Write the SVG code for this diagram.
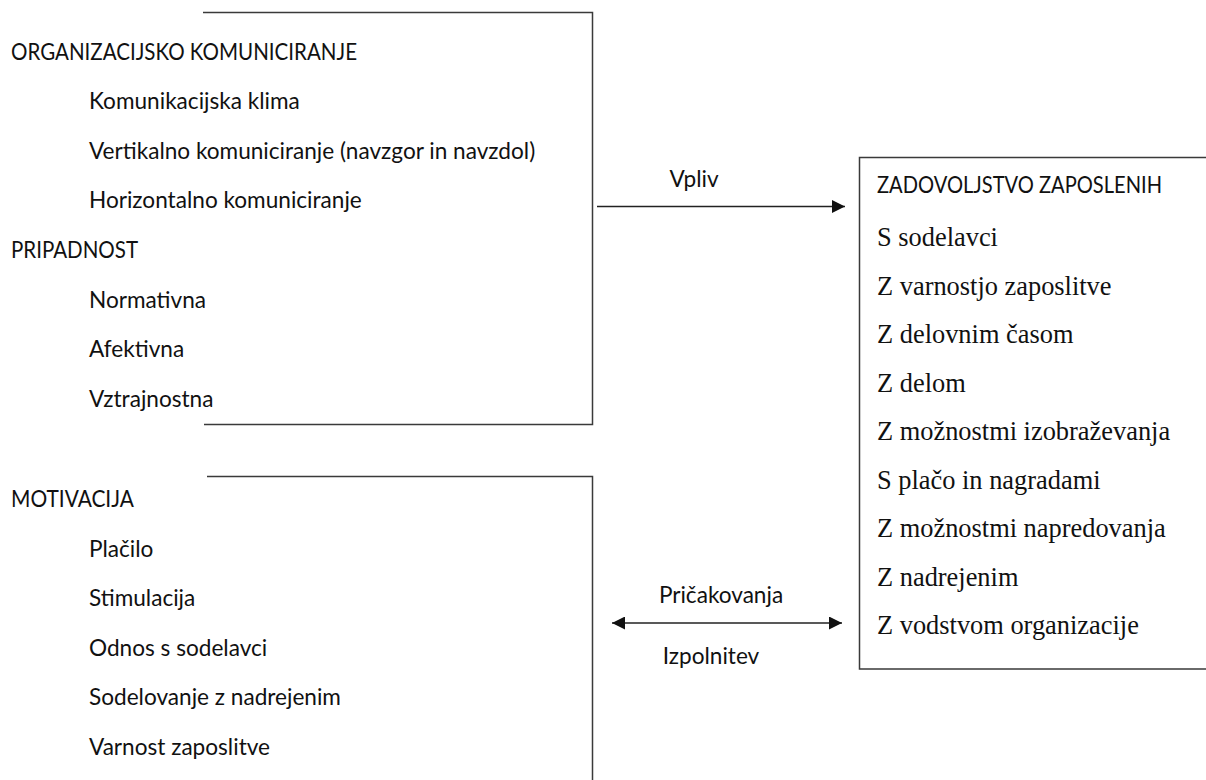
<svg xmlns="http://www.w3.org/2000/svg" width="1206" height="780" viewBox="0 0 1206 780">
  <defs>
    <style>
      .frame { fill: none; stroke: #3a3a3a; stroke-width: 1.5; }
      .conn { fill: none; stroke: #222; stroke-width: 1.5; }
      .sans { font-family: Lato, "Open Sans", "Liberation Sans", sans-serif; font-size: 22.6px; fill: #111; }
      .serif { font-family: "Liberation Serif", "Times New Roman", serif; font-size: 26.4px; fill: #111; }
    </style>
    <marker id="arrow" markerUnits="userSpaceOnUse" markerWidth="13" markerHeight="13" refX="13" refY="6.5" orient="auto-start-reverse">
      <path d="M0,0 L13,6.5 L0,13 Z" fill="#111"/>
    </marker>
  </defs>
  <rect width="1206" height="780" fill="#ffffff"/>

  <g id="organizacijsko-komuniciranje">
    <path class="frame" d="M203,12.5 H592.5 V424.5 H204"/>
    <text class="sans" x="11" y="60" textLength="346" lengthAdjust="spacingAndGlyphs">ORGANIZACIJSKO KOMUNICIRANJE</text>
    <text class="sans" x="89" y="109">Komunikacijska klima</text>
    <text class="sans" x="89" y="159">Vertikalno komuniciranje (navzgor in navzdol)</text>
    <text class="sans" x="89" y="208">Horizontalno komuniciranje</text>
    <text class="sans" x="11" y="258" textLength="127" lengthAdjust="spacingAndGlyphs">PRIPADNOST</text>
    <text class="sans" x="89" y="308">Normativna</text>
    <text class="sans" x="89" y="357">Afektivna</text>
    <text class="sans" x="89" y="407">Vztrajnostna</text>
  </g>

  <g id="motivacija">
    <path class="frame" d="M207,476.5 H592.5 V780"/>
    <text class="sans" x="11" y="507" textLength="123" lengthAdjust="spacingAndGlyphs">MOTIVACIJA</text>
    <text class="sans" x="89" y="557">Plačilo</text>
    <text class="sans" x="89" y="606">Stimulacija</text>
    <text class="sans" x="89" y="656">Odnos s sodelavci</text>
    <text class="sans" x="89" y="705">Sodelovanje z nadrejenim</text>
    <text class="sans" x="89" y="755">Varnost zaposlitve</text>
  </g>

  <g id="zadovoljstvo-zaposlenih">
    <path class="frame" d="M1210,157.5 H859.5 V669 H1210"/>
    <text class="sans" x="877" y="193" textLength="285" lengthAdjust="spacingAndGlyphs">ZADOVOLJSTVO ZAPOSLENIH</text>
    <text class="serif" x="877" y="246">S sodelavci</text>
    <text class="serif" x="877" y="295">Z varnostjo zaposlitve</text>
    <text class="serif" x="877" y="343">Z delovnim časom</text>
    <text class="serif" x="877" y="392">Z delom</text>
    <text class="serif" x="877" y="440">Z možnostmi izobraževanja</text>
    <text class="serif" x="877" y="489">S plačo in nagradami</text>
    <text class="serif" x="877" y="537">Z možnostmi napredovanja</text>
    <text class="serif" x="877" y="586">Z nadrejenim</text>
    <text class="serif" x="877" y="634">Z vodstvom organizacije</text>
  </g>

  <g id="connectors">
    <line class="conn" x1="597" y1="206.5" x2="845" y2="206.5" marker-end="url(#arrow)"/>
    <text class="sans" x="694" y="187" text-anchor="middle">Vpliv</text>
    <line class="conn" x1="612" y1="623" x2="842" y2="623" marker-start="url(#arrow)" marker-end="url(#arrow)"/>
    <text class="sans" x="721" y="603" text-anchor="middle">Pričakovanja</text>
    <text class="sans" x="711" y="664" text-anchor="middle">Izpolnitev</text>
  </g>
</svg>
